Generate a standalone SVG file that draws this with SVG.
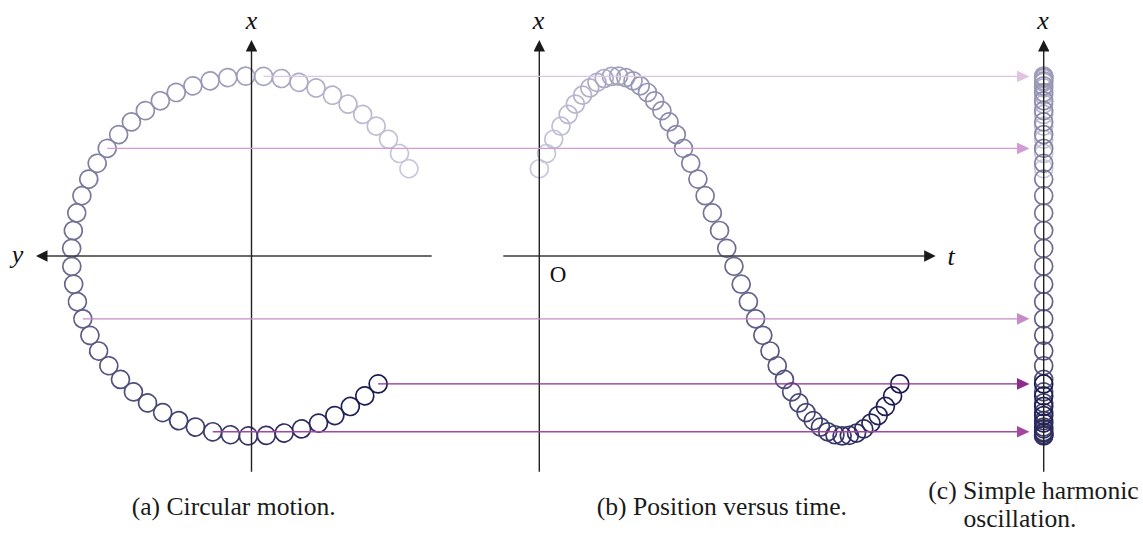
<svg xmlns="http://www.w3.org/2000/svg" width="1143" height="533" viewBox="0 0 1143 533">
<style>
circle{fill:none;stroke-width:1.7}
.ax{stroke:#222;stroke-width:1.4;fill:none}
.axh{stroke:#3a3a3a;stroke-width:1.6;fill:none}
.lbl{font-family:"Liberation Serif","Times New Roman",serif;font-style:italic;font-size:26px;fill:#111;text-anchor:middle}
.cap{font-family:"Liberation Serif","Times New Roman",serif;font-size:25.6px;fill:#1a1a1a}
.con{stroke-width:1.4;fill:none}
.k0{stroke:#c8c8dc}.k1{stroke:#c5c5d9}.k2{stroke:#c1c1d6}.k3{stroke:#bebed4}.k4{stroke:#babad1}.k5{stroke:#b7b7ce}.k6{stroke:#b3b3cb}.k7{stroke:#b0b0c8}.k8{stroke:#acacc6}.k9{stroke:#a9a9c3}
.k10{stroke:#a5a5c0}.k11{stroke:#a2a2bd}.k12{stroke:#9e9eba}.k13{stroke:#9b9bb8}.k14{stroke:#9797b5}.k15{stroke:#9494b2}.k16{stroke:#9090af}.k17{stroke:#8d8dac}.k18{stroke:#8989aa}.k19{stroke:#8686a7}
.k20{stroke:#8282a4}.k21{stroke:#7f7fa1}.k22{stroke:#7b7b9e}.k23{stroke:#78789c}.k24{stroke:#747499}.k25{stroke:#717196}.k26{stroke:#6d6d93}.k27{stroke:#6a6a90}.k28{stroke:#66668e}.k29{stroke:#63638b}
.k30{stroke:#5f5f88}.k31{stroke:#5c5c85}.k32{stroke:#585882}.k33{stroke:#555580}.k34{stroke:#51517d}.k35{stroke:#4e4e7a}.k36{stroke:#4a4a77}.k37{stroke:#474774}.k38{stroke:#434372}.k39{stroke:#40406f}
.k40{stroke:#3c3c6c}.k41{stroke:#393969}.k42{stroke:#353566}.k43{stroke:#323264}.k44{stroke:#2e2e61}.k45{stroke:#2b2b5e}.k46{stroke:#27275b}.k47{stroke:#242458}.k48{stroke:#202056}.k49{stroke:#1d1d53}.k50{stroke:#191950}
</style>
<defs>
<marker id="ah" viewBox="0 0 11.5 11.5" refX="6" refY="5.75" markerWidth="11.5" markerHeight="11.5" markerUnits="userSpaceOnUse" orient="auto"><path d="M0,0 L11.5,5.75 L0,11.5 z" fill="#1a1a1a"/></marker>
<marker id="m10" viewBox="0 0 12.5 11.6" refX="5" refY="5.8" markerWidth="12.5" markerHeight="11.6" markerUnits="userSpaceOnUse" orient="auto"><path d="M0,0 L12.5,5.8 L0,11.6 z" fill="#e3c3e3"/></marker>
<marker id="m20" viewBox="0 0 12.5 11.6" refX="5" refY="5.8" markerWidth="12.5" markerHeight="11.6" markerUnits="userSpaceOnUse" orient="auto"><path d="M0,0 L12.5,5.8 L0,11.6 z" fill="#d39ad3"/></marker>
<marker id="m30" viewBox="0 0 12.5 11.6" refX="5" refY="5.8" markerWidth="12.5" markerHeight="11.6" markerUnits="userSpaceOnUse" orient="auto"><path d="M0,0 L12.5,5.8 L0,11.6 z" fill="#c58cc5"/></marker>
<marker id="m40" viewBox="0 0 12.5 11.6" refX="5" refY="5.8" markerWidth="12.5" markerHeight="11.6" markerUnits="userSpaceOnUse" orient="auto"><path d="M0,0 L12.5,5.8 L0,11.6 z" fill="#a347a3"/></marker>
<marker id="m50" viewBox="0 0 12.5 11.6" refX="5" refY="5.8" markerWidth="12.5" markerHeight="11.6" markerUnits="userSpaceOnUse" orient="auto"><path d="M0,0 L12.5,5.8 L0,11.6 z" fill="#8f2b8f"/></marker>
</defs>
<rect width="1143" height="533" fill="#fff"/>

<g id="panel-a-circles">
<circle class="k0" cx="431.5" cy="256" r="9" transform="rotate(-29 251.5 256)"/>
<circle class="k1" cx="431.5" cy="256" r="9" transform="rotate(-34.714 251.5 256)"/>
<circle class="k2" cx="431.5" cy="256" r="9" transform="rotate(-40.429 251.5 256)"/>
<circle class="k3" cx="431.5" cy="256" r="9" transform="rotate(-46.143 251.5 256)"/>
<circle class="k4" cx="431.5" cy="256" r="9" transform="rotate(-51.857 251.5 256)"/>
<circle class="k5" cx="431.5" cy="256" r="9" transform="rotate(-57.571 251.5 256)"/>
<circle class="k6" cx="431.5" cy="256" r="9" transform="rotate(-63.286 251.5 256)"/>
<circle class="k7" cx="431.5" cy="256" r="9" transform="rotate(-69 251.5 256)"/>
<circle class="k8" cx="431.5" cy="256" r="9" transform="rotate(-74.714 251.5 256)"/>
<circle class="k9" cx="431.5" cy="256" r="9" transform="rotate(-80.429 251.5 256)"/>
<circle class="k10" cx="431.5" cy="256" r="9" transform="rotate(-86.143 251.5 256)"/>
<circle class="k11" cx="431.5" cy="256" r="9" transform="rotate(-91.857 251.5 256)"/>
<circle class="k12" cx="431.5" cy="256" r="9" transform="rotate(-97.571 251.5 256)"/>
<circle class="k13" cx="431.5" cy="256" r="9" transform="rotate(-103.286 251.5 256)"/>
<circle class="k14" cx="431.5" cy="256" r="9" transform="rotate(-109 251.5 256)"/>
<circle class="k15" cx="431.5" cy="256" r="9" transform="rotate(-114.714 251.5 256)"/>
<circle class="k16" cx="431.5" cy="256" r="9" transform="rotate(-120.429 251.5 256)"/>
<circle class="k17" cx="431.5" cy="256" r="9" transform="rotate(-126.143 251.5 256)"/>
<circle class="k18" cx="431.5" cy="256" r="9" transform="rotate(-131.857 251.5 256)"/>
<circle class="k19" cx="431.5" cy="256" r="9" transform="rotate(-137.571 251.5 256)"/>
<circle class="k20" cx="431.5" cy="256" r="9" transform="rotate(-143.286 251.5 256)"/>
<circle class="k21" cx="431.5" cy="256" r="9" transform="rotate(-149 251.5 256)"/>
<circle class="k22" cx="431.5" cy="256" r="9" transform="rotate(-154.714 251.5 256)"/>
<circle class="k23" cx="431.5" cy="256" r="9" transform="rotate(-160.429 251.5 256)"/>
<circle class="k24" cx="431.5" cy="256" r="9" transform="rotate(-166.143 251.5 256)"/>
<circle class="k25" cx="431.5" cy="256" r="9" transform="rotate(-171.857 251.5 256)"/>
<circle class="k26" cx="431.5" cy="256" r="9" transform="rotate(-177.571 251.5 256)"/>
<circle class="k27" cx="431.5" cy="256" r="9" transform="rotate(-183.286 251.5 256)"/>
<circle class="k28" cx="431.5" cy="256" r="9" transform="rotate(-189 251.5 256)"/>
<circle class="k29" cx="431.5" cy="256" r="9" transform="rotate(-194.714 251.5 256)"/>
<circle class="k30" cx="431.5" cy="256" r="9" transform="rotate(-200.429 251.5 256)"/>
<circle class="k31" cx="431.5" cy="256" r="9" transform="rotate(-206.143 251.5 256)"/>
<circle class="k32" cx="431.5" cy="256" r="9" transform="rotate(-211.857 251.5 256)"/>
<circle class="k33" cx="431.5" cy="256" r="9" transform="rotate(-217.571 251.5 256)"/>
<circle class="k34" cx="431.5" cy="256" r="9" transform="rotate(-223.286 251.5 256)"/>
<circle class="k35" cx="431.5" cy="256" r="9" transform="rotate(-229 251.5 256)"/>
<circle class="k36" cx="431.5" cy="256" r="9" transform="rotate(-234.714 251.5 256)"/>
<circle class="k37" cx="431.5" cy="256" r="9" transform="rotate(-240.429 251.5 256)"/>
<circle class="k38" cx="431.5" cy="256" r="9" transform="rotate(-246.143 251.5 256)"/>
<circle class="k39" cx="431.5" cy="256" r="9" transform="rotate(-251.857 251.5 256)"/>
<circle class="k40" cx="431.5" cy="256" r="9" transform="rotate(-257.571 251.5 256)"/>
<circle class="k41" cx="431.5" cy="256" r="9" transform="rotate(-263.286 251.5 256)"/>
<circle class="k42" cx="431.5" cy="256" r="9" transform="rotate(-269 251.5 256)"/>
<circle class="k43" cx="431.5" cy="256" r="9" transform="rotate(-274.714 251.5 256)"/>
<circle class="k44" cx="431.5" cy="256" r="9" transform="rotate(-280.429 251.5 256)"/>
<circle class="k45" cx="431.5" cy="256" r="9" transform="rotate(-286.143 251.5 256)"/>
<circle class="k46" cx="431.5" cy="256" r="9" transform="rotate(-291.857 251.5 256)"/>
<circle class="k47" cx="431.5" cy="256" r="9" transform="rotate(-297.571 251.5 256)"/>
<circle class="k48" cx="431.5" cy="256" r="9" transform="rotate(-303.286 251.5 256)"/>
<circle class="k49" cx="431.5" cy="256" r="9" transform="rotate(-309 251.5 256)"/>
<circle class="k50" cx="431.5" cy="256" r="9" transform="rotate(-314.714 251.5 256)"/>
</g>

<g id="panel-b-circles">
<circle class="k0" cx="539.3" cy="168.73" r="9"/>
<circle class="k1" cx="546.51" cy="153.49" r="9"/>
<circle class="k2" cx="553.72" cy="139.27" r="9"/>
<circle class="k3" cx="560.93" cy="126.21" r="9"/>
<circle class="k4" cx="568.14" cy="114.43" r="9"/>
<circle class="k5" cx="575.35" cy="104.07" r="9"/>
<circle class="k6" cx="582.56" cy="95.21" r="9"/>
<circle class="k7" cx="589.77" cy="87.96" r="9"/>
<circle class="k8" cx="596.98" cy="82.37" r="9"/>
<circle class="k9" cx="604.19" cy="78.51" r="9"/>
<circle class="k10" cx="611.4" cy="76.41" r="9"/>
<circle class="k11" cx="618.61" cy="76.09" r="9"/>
<circle class="k12" cx="625.82" cy="77.57" r="9"/>
<circle class="k13" cx="633.03" cy="80.82" r="9"/>
<circle class="k14" cx="640.24" cy="85.81" r="9"/>
<circle class="k15" cx="647.45" cy="92.49" r="9"/>
<circle class="k16" cx="654.66" cy="100.79" r="9"/>
<circle class="k17" cx="661.87" cy="110.64" r="9"/>
<circle class="k18" cx="669.08" cy="121.93" r="9"/>
<circle class="k19" cx="676.29" cy="134.56" r="9"/>
<circle class="k20" cx="683.5" cy="148.39" r="9"/>
<circle class="k21" cx="690.71" cy="163.29" r="9"/>
<circle class="k22" cx="697.92" cy="179.12" r="9"/>
<circle class="k23" cx="705.13" cy="195.7" r="9"/>
<circle class="k24" cx="712.34" cy="212.89" r="9"/>
<circle class="k25" cx="719.55" cy="230.5" r="9"/>
<circle class="k26" cx="726.76" cy="248.37" r="9"/>
<circle class="k27" cx="733.97" cy="266.32" r="9"/>
<circle class="k28" cx="741.18" cy="284.16" r="9"/>
<circle class="k29" cx="748.39" cy="301.72" r="9"/>
<circle class="k30" cx="755.6" cy="318.83" r="9"/>
<circle class="k31" cx="762.81" cy="335.31" r="9"/>
<circle class="k32" cx="770.02" cy="351.01" r="9"/>
<circle class="k33" cx="777.23" cy="365.75" r="9"/>
<circle class="k34" cx="784.44" cy="379.42" r="9"/>
<circle class="k35" cx="791.65" cy="391.85" r="9"/>
<circle class="k36" cx="798.86" cy="402.93" r="9"/>
<circle class="k37" cx="806.07" cy="412.55" r="9"/>
<circle class="k38" cx="813.28" cy="420.62" r="9"/>
<circle class="k39" cx="820.49" cy="427.05" r="9"/>
<circle class="k40" cx="827.7" cy="431.78" r="9"/>
<circle class="k41" cx="834.91" cy="434.77" r="9"/>
<circle class="k42" cx="842.12" cy="435.97" r="9"/>
<circle class="k43" cx="849.33" cy="435.39" r="9"/>
<circle class="k44" cx="856.54" cy="433.03" r="9"/>
<circle class="k45" cx="863.75" cy="428.9" r="9"/>
<circle class="k46" cx="870.96" cy="423.06" r="9"/>
<circle class="k47" cx="878.17" cy="415.56" r="9"/>
<circle class="k48" cx="885.38" cy="406.47" r="9"/>
<circle class="k49" cx="892.59" cy="395.89" r="9"/>
<circle class="k50" cx="899.8" cy="383.91" r="9"/>
</g>

<g id="panel-c-circles">
<circle class="k0" cx="1043.7" cy="168.73" r="9"/>
<circle class="k1" cx="1043.7" cy="153.49" r="9"/>
<circle class="k2" cx="1043.7" cy="139.27" r="9"/>
<circle class="k3" cx="1043.7" cy="126.21" r="9"/>
<circle class="k4" cx="1043.7" cy="114.43" r="9"/>
<circle class="k5" cx="1043.7" cy="104.07" r="9"/>
<circle class="k6" cx="1043.7" cy="95.21" r="9"/>
<circle class="k7" cx="1043.7" cy="87.96" r="9"/>
<circle class="k8" cx="1043.7" cy="82.37" r="9"/>
<circle class="k9" cx="1043.7" cy="78.51" r="9"/>
<circle class="k10" cx="1043.7" cy="76.41" r="9"/>
<circle class="k11" cx="1043.7" cy="76.09" r="9"/>
<circle class="k12" cx="1043.7" cy="77.57" r="9"/>
<circle class="k13" cx="1043.7" cy="80.82" r="9"/>
<circle class="k14" cx="1043.7" cy="85.81" r="9"/>
<circle class="k15" cx="1043.7" cy="92.49" r="9"/>
<circle class="k16" cx="1043.7" cy="100.79" r="9"/>
<circle class="k17" cx="1043.7" cy="110.64" r="9"/>
<circle class="k18" cx="1043.7" cy="121.93" r="9"/>
<circle class="k19" cx="1043.7" cy="134.56" r="9"/>
<circle class="k20" cx="1043.7" cy="148.39" r="9"/>
<circle class="k21" cx="1043.7" cy="163.29" r="9"/>
<circle class="k22" cx="1043.7" cy="179.12" r="9"/>
<circle class="k23" cx="1043.7" cy="195.7" r="9"/>
<circle class="k24" cx="1043.7" cy="212.89" r="9"/>
<circle class="k25" cx="1043.7" cy="230.5" r="9"/>
<circle class="k26" cx="1043.7" cy="248.37" r="9"/>
<circle class="k27" cx="1043.7" cy="266.32" r="9"/>
<circle class="k28" cx="1043.7" cy="284.16" r="9"/>
<circle class="k29" cx="1043.7" cy="301.72" r="9"/>
<circle class="k30" cx="1043.7" cy="318.83" r="9"/>
<circle class="k31" cx="1043.7" cy="335.31" r="9"/>
<circle class="k32" cx="1043.7" cy="351.01" r="9"/>
<circle class="k33" cx="1043.7" cy="365.75" r="9"/>
<circle class="k34" cx="1043.7" cy="379.42" r="9"/>
<circle class="k35" cx="1043.7" cy="391.85" r="9"/>
<circle class="k36" cx="1043.7" cy="402.93" r="9"/>
<circle class="k37" cx="1043.7" cy="412.55" r="9"/>
<circle class="k38" cx="1043.7" cy="420.62" r="9"/>
<circle class="k39" cx="1043.7" cy="427.05" r="9"/>
<circle class="k40" cx="1043.7" cy="431.78" r="9"/>
<circle class="k41" cx="1043.7" cy="434.77" r="9"/>
<circle class="k42" cx="1043.7" cy="435.97" r="9"/>
<circle class="k43" cx="1043.7" cy="435.39" r="9"/>
<circle class="k44" cx="1043.7" cy="433.03" r="9"/>
<circle class="k45" cx="1043.7" cy="428.9" r="9"/>
<circle class="k46" cx="1043.7" cy="423.06" r="9"/>
<circle class="k47" cx="1043.7" cy="415.56" r="9"/>
<circle class="k48" cx="1043.7" cy="406.47" r="9"/>
<circle class="k49" cx="1043.7" cy="395.89" r="9"/>
<circle class="k50" cx="1043.7" cy="383.91" r="9"/>
</g>

<g id="axes">
<line class="axh" x1="431.7" y1="256" x2="41.5" y2="256" marker-end="url(#ah)"/>
<line class="ax" x1="251.5" y1="471.7" x2="251.5" y2="45.5" marker-end="url(#ah)"/>
<line class="axh" x1="503.3" y1="256" x2="930.2" y2="256" marker-end="url(#ah)"/>
<line class="ax" x1="539.3" y1="471.7" x2="539.3" y2="45.5" marker-end="url(#ah)"/>
<line class="ax" x1="1043.7" y1="471.7" x2="1043.7" y2="45.5" marker-end="url(#ah)"/>
</g>

<g id="connectors">
<line class="con" stroke="#e3c3e3" x1="263.61" y1="76.41" x2="1022" y2="76.41" marker-end="url(#m10)"/>
<line class="con" stroke="#d39ad3" x1="107.21" y1="148.39" x2="1022" y2="148.39" marker-end="url(#m20)"/>
<line class="con" stroke="#c58cc5" x1="82.82" y1="318.83" x2="1022" y2="318.83" marker-end="url(#m30)"/>
<line class="con" stroke="#8f2b8f" x1="378.14" y1="383.91" x2="1022" y2="383.91" marker-end="url(#m50)"/>
<line class="con" stroke="#a347a3" x1="212.76" y1="431.78" x2="1022" y2="431.78" marker-end="url(#m40)"/>
</g>

<g id="labels">
<text class="lbl" x="251.5" y="29">x</text>
<text class="lbl" x="538.5" y="29">x</text>
<text class="lbl" x="1043" y="29">x</text>
<text class="lbl" x="17.5" y="263">y</text>
<text class="lbl" x="951" y="265">t</text>
<text x="558" y="281.7" style="font-family:'Liberation Serif','Times New Roman',serif;font-size:23px;fill:#111;text-anchor:middle">O</text>
</g>

<g id="captions">
<text class="cap" x="131.7" y="515">(a) Circular motion.</text>
<text class="cap" x="596.7" y="515">(b) Position versus time.</text>
<text class="cap" x="928.3" y="498.5">(c) Simple harmonic</text>
<text class="cap" x="963.5" y="527">oscillation.</text>
</g>
</svg>
